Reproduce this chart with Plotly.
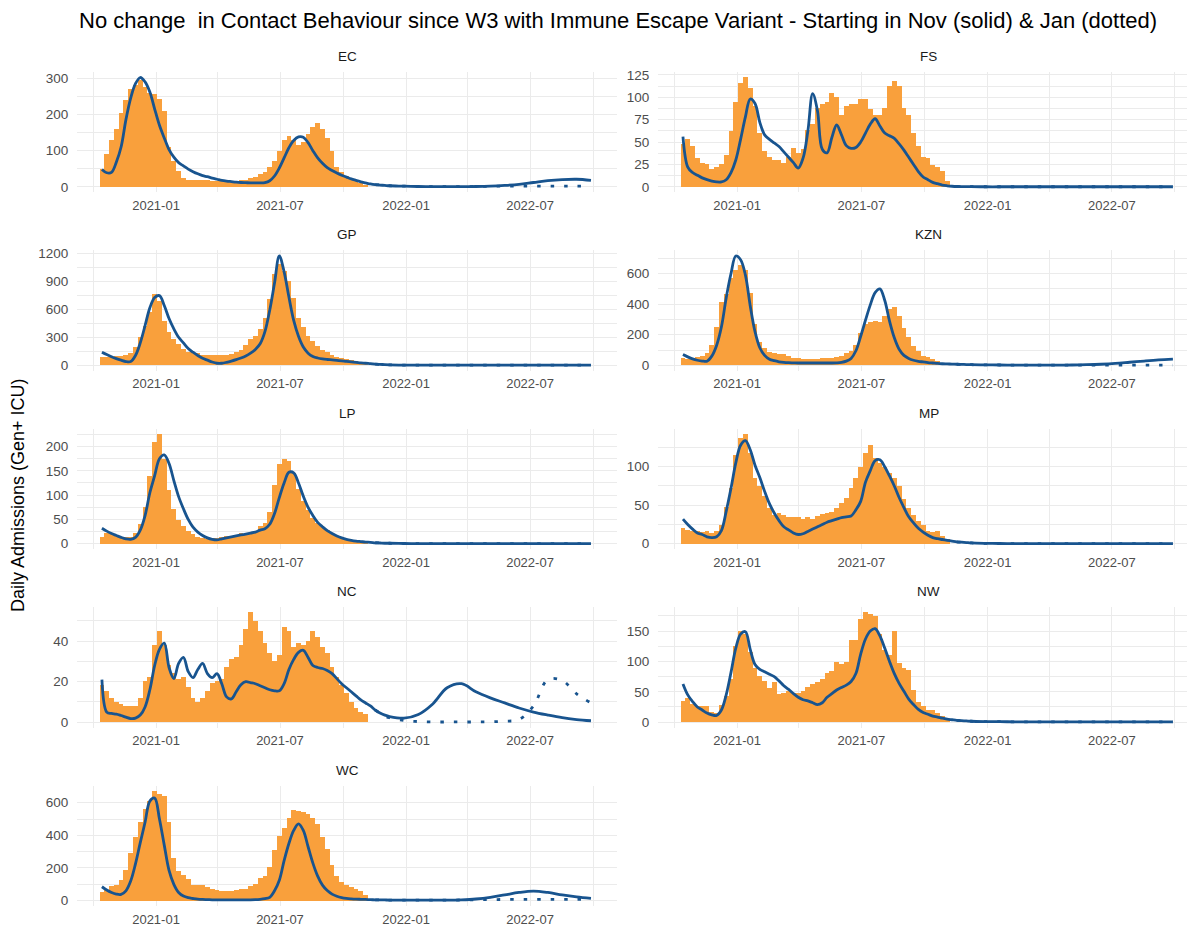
import plotly.graph_objects as go
import pandas as pd

# ---------------- data ----------------
regions = ["EC", "FS", "GP", "KZN", "LP", "MP", "NC", "NW", "WC"]

# weekly admissions bars (centre dates)
bar_dates = pd.date_range("2020-10-14", periods=56, freq="7D")
# model curve sample dates: weekly, then every three weeks
line_weeks = list(range(61)) + list(range(63, 103, 3))
line_dates = [pd.Timestamp("2020-10-14") + pd.Timedelta(weeks=w) for w in line_weeks]
jan_from = 57  # index in line_dates where the Jan (dotted) scenario is shown from

ec_bars = [50, 90, 130, 160, 205, 240, 270, 280, 295, 275,
           260, 255, 242, 210, 110, 70, 45, 25, 20, 20,
           20, 19, 18, 16, 15, 15, 14, 15, 17, 20,
           20, 24, 28, 35, 42, 55, 72, 100, 130, 140,
           130, 115, 125, 145, 165, 175, 160, 135, 100, 55,
           40, 30, 22, 15, 10, 6]
ec_nov = [48, 39, 40, 68, 110, 185, 245, 285, 302, 290,
          262, 215, 170, 135, 103, 82, 67, 58, 49, 42,
          36, 31, 28, 24, 21, 18, 16, 14.5, 13, 12,
          11.5, 11, 11, 11, 12, 17, 30, 52, 80, 108,
          128, 138, 137, 122, 100, 80, 65, 53, 45, 38,
          32, 27, 22, 18, 14, 11, 8, 6, 5, 4,
          3,
          2, 1, 0.5, 0.5, 0.5, 1, 2, 4, 7, 12, 17, 20, 21, 18]
ec_jan = [6, 5, 4, 3, 2, 1, 0.5, 0.5, 0.5, 1, 1.5, 2, 2, 2, 2, 2, 2, 2]

fs_bars = [48, 53, 45, 32, 27, 25, 20, 22, 25, 35,
           62, 95, 116, 122, 110, 90, 60, 40, 33, 30,
           30, 27, 33, 43, 38, 42, 63, 70, 88, 92,
           95, 105, 100, 80, 90, 92, 92, 98, 98, 87,
           80, 80, 88, 112, 118, 112, 88, 80, 60, 45,
           33, 32, 24, 22, 18, 7]
fs_nov = [56, 22, 16, 13, 10, 8, 6.5, 5.5, 5.5, 8,
          16, 30, 53, 78, 98, 93, 72, 58, 53, 49,
          45, 39, 33, 27, 21, 32, 62, 104, 85, 42,
          38, 55, 69, 58, 46, 43, 44, 50, 60, 70,
          76, 68, 60, 57, 54, 48, 41, 33, 25, 17,
          11, 8, 5, 3.5, 2, 1.2, 0.7, 0.4, 0.3, 0.2,
          0.2,
          0.1, 0.1, 0.1, 0.1, 0.1, 0.1, 0.1, 0.1, 0.1, 0.1, 0.1, 0.1, 0.1, 0.1]
fs_jan = fs_nov[jan_from:]

gp_bars = [80, 82, 88, 90, 92, 100, 130, 190, 300, 420,
           560, 760, 680, 470, 350, 280, 220, 165, 140, 135,
           125, 110, 105, 105, 110, 105, 110, 120, 135, 160,
           210, 275, 310, 380, 500, 700, 970, 1080, 1000, 900,
           720, 500, 400, 310, 255, 200, 160, 140, 100, 80,
           72, 65, 52, 40, 28, 18]
gp_nov = [140, 115, 92, 72, 55, 40, 40, 105, 240, 425,
          615, 725, 745, 640, 500, 390, 300, 240, 180, 140,
          105, 75, 55, 35, 22, 22, 32, 45, 60, 78,
          100, 130, 170, 230, 360, 590, 880, 1170, 1000, 730,
          480, 310, 195, 130, 95, 78, 68, 62, 58, 53,
          48, 42, 37, 32, 26, 22, 17, 13, 10, 7,
          5,
          2, 1, 1, 1, 1, 1, 1, 1, 1, 1, 1, 1, 1, 1]
gp_jan = gp_nov[jan_from:]

kzn_bars = [45, 40, 42, 50, 60, 75, 130, 250, 410, 460,
            570, 620, 650, 620, 470, 270, 150, 110, 85, 75,
            72, 72, 55, 45, 42, 40, 40, 40, 40, 42,
            45, 47, 50, 55, 80, 90, 130, 210, 270, 280,
            285, 280, 320, 365, 380, 320, 240, 180, 125, 90,
            60, 50, 35, 22, 12, 5]
kzn_nov = [70, 55, 42, 33, 28, 27, 60, 130, 250, 440,
           600, 715, 690, 590, 390, 220, 115, 65, 40, 30,
           23, 19, 17, 16, 15, 15, 15, 15, 15, 15,
           15, 15, 16, 19, 27, 45, 95, 190, 295, 395,
           475, 500, 425, 290, 180, 105, 65, 45, 33, 26,
           22, 18, 15, 12, 10, 9, 8, 7, 6, 5,
           4,
           3, 2, 1.5, 1, 1, 1, 2, 4, 7, 12, 20, 28, 35, 40]
kzn_jan = [7, 6, 5, 4, 3, 2, 1.5, 1, 1, 1, 1, 1, 1, 1, 1, 1, 1, 1]

lp_bars = [15, 22, 20, 17, 15, 14, 15, 22, 40, 75,
           140, 210, 225, 175, 110, 72, 48, 36, 27, 20,
           15, 12, 10, 11, 12, 15, 16, 17, 19, 22,
           20, 23, 27, 36, 42, 65, 120, 165, 175, 170,
           145, 112, 88, 70, 53, 42, 34, 28, 21, 16,
           12, 10, 8, 6, 5, 3]
lp_nov = [32, 26, 21, 17, 13, 10, 9, 13, 28, 58,
          105, 140, 175, 183, 165, 130, 97, 72, 50, 34,
          24, 17, 12, 9, 8, 10, 12, 14, 16, 18,
          20, 22, 24, 28, 31, 40, 62, 95, 125, 147,
          146, 125, 98, 75, 58, 44, 35, 27, 21, 16,
          12, 9, 7, 5.5, 4.5, 3.5, 3, 2, 1.5, 1,
          1,
          0.5, 0.3, 0.2, 0.2, 0.2, 0.2, 0.2, 0.2, 0.2, 0.2, 0.2, 0.2, 0.2, 0.2]
lp_jan = lp_nov[jan_from:]

mp_bars = [20, 18, 16, 16, 15, 16, 14, 17, 25, 48,
           72, 115, 138, 142, 118, 85, 75, 62, 47, 38,
           40, 38, 35, 35, 35, 32, 35, 32, 36, 39,
           40, 41, 47, 53, 60, 72, 85, 100, 118, 128,
           112, 105, 100, 92, 86, 75, 58, 47, 37, 30,
           25, 17, 15, 16, 10, 6]
mp_nov = [32, 25, 19, 14, 12, 9, 8, 9, 17, 42,
          72, 105, 128, 134, 122, 102, 86, 68, 52, 40,
          30, 22, 18, 14, 12, 13, 16, 19, 22, 25,
          28, 30, 32, 34, 35, 36, 44, 55, 80, 95,
          108, 109, 100, 88, 75, 60, 47, 35, 27, 20,
          15, 11, 8, 6.5, 5.5, 4.5, 3.5, 2.5, 2, 1.5,
          1,
          0.5, 0.3, 0.2, 0.2, 0.2, 0.2, 0.2, 0.2, 0.2, 0.2, 0.2, 0.2, 0.2, 0.2]
mp_jan = mp_nov[jan_from:]

nc_bars = [18, 15, 12, 10, 9, 8, 8, 8, 12, 20,
           22, 38, 45, 38, 28, 24, 21, 22, 17, 12,
           10, 12, 15, 19, 20, 21, 27, 31, 32, 38,
           46, 54, 50, 45, 39, 34, 30, 33, 47, 45,
           37, 39, 38, 40, 45, 42, 37, 34, 27, 22,
           18, 14, 10, 7, 5, 4]
nc_nov = [21, 5, 4.3, 4, 3.3, 2.5, 1.8, 2, 3.5, 7.5,
          16, 28, 36, 39, 27, 21.5, 29, 32, 25, 22,
          26, 29, 24, 22, 24, 19, 12.5, 11.5, 15, 18.5,
          20, 19.5, 19, 18, 17, 16, 15.5, 15.5, 19, 26,
          31, 34.5, 35.5, 32, 28, 27, 26.5, 25.5, 24, 21.5,
          19, 17, 15, 13, 11, 9.5, 8, 6, 4.5, 3.5,
          2.8,
          2, 3.8, 9, 17, 19, 15, 12, 9.5, 7, 5, 3.5, 2.2, 1.3, 0.7]
nc_jan = [6, 4.5, 3, 2.2, 0.8, 0.3, 0.1, 0.1, 0.1, 0.1, 0.2, 0.5, 1.3, 8, 21, 20.6, 14, 9.5]

nw_bars = [35, 40, 30, 26, 26, 26, 16, 14, 28, 43,
           70, 125, 150, 145, 115, 88, 75, 68, 55, 65,
           45, 48, 51, 48, 48, 50, 57, 62, 65, 70,
           80, 84, 98, 95, 98, 135, 135, 170, 180, 178,
           175, 145, 118, 110, 150, 97, 88, 85, 52, 32,
           26, 20, 19, 14, 10, 5]
nw_nov = [63, 45, 34, 25, 20, 15, 12, 11, 20, 45,
          82, 122, 145, 149, 120, 95, 87, 83, 79, 75,
          68, 60, 54, 47, 41, 37, 35, 32, 29, 32,
          41, 47, 53, 57, 61, 67, 80, 112, 137, 150,
          154, 142, 122, 100, 80, 64, 51, 38, 29, 21,
          16, 13, 10, 8.5, 6.5, 5, 4, 3, 2.5, 2,
          1.5,
          1, 0.8, 0.6, 0.5, 0.5, 0.5, 0.5, 0.5, 0.5, 0.5, 0.5, 0.5, 0.5, 0.5]
nw_jan = nw_nov[jan_from:]

wc_bars = [55, 68, 88, 97, 125, 190, 290, 390, 480, 565,
           610, 670, 655, 640, 480, 260, 185, 160, 135, 95,
           95, 95, 85, 70, 68, 62, 60, 58, 68, 72,
           75, 88, 105, 138, 155, 210, 310, 400, 445, 510,
           555, 550, 545, 535, 505, 470, 390, 320, 220, 155,
           118, 98, 85, 72, 58, 38]
wc_nov = [85, 65, 50, 40, 38, 60, 120, 225, 355, 480,
          610, 628, 500, 340, 185, 100, 50, 28, 18, 13,
          9, 7, 6, 5, 5, 4, 4, 4, 4, 4,
          5, 5, 6, 8, 12, 20, 60, 125, 245, 350,
          430, 470, 430, 330, 230, 150, 95, 62, 40, 27,
          19, 14, 11, 9, 8, 7, 6, 5, 4.5, 4,
          3.5,
          3, 3, 3, 3, 5, 10, 20, 35, 50, 58, 50, 35, 23, 14]
wc_jan = [5, 4.5, 4, 3.5, 3, 3, 3, 3, 4, 5, 6, 7, 7, 7, 7, 7, 7, 7]

panel_data = {
    "EC": (ec_bars, ec_nov, ec_jan), "FS": (fs_bars, fs_nov, fs_jan),
    "GP": (gp_bars, gp_nov, gp_jan), "KZN": (kzn_bars, kzn_nov, kzn_jan),
    "LP": (lp_bars, lp_nov, lp_jan), "MP": (mp_bars, mp_nov, mp_jan),
    "NC": (nc_bars, nc_nov, nc_jan), "NW": (nw_bars, nw_nov, nw_jan),
    "WC": (wc_bars, wc_nov, wc_jan),
}
y_steps = {"EC": 100, "FS": 25, "GP": 300, "KZN": 200, "LP": 50,
           "MP": 50, "NC": 20, "NW": 50, "WC": 200}

x_tick_vals = ["2021-01-01", "2021-07-01", "2022-01-01", "2022-07-01"]
x_tick_text = ["2021-01", "2021-07", "2022-01", "2022-07"]
x_minor_vals = ["2020-10-01", "2021-04-01", "2021-10-01", "2022-04-01", "2022-10-01"]

title_text = ("No change  in Contact Behaviour since W3 with Immune Escape Variant"
              " - Starting in Nov (solid) & Jan (dotted)")
y_title = "Daily Admissions (Gen+ ICU)"

# ---------------- styling / geometry ----------------
PAGE_W, PAGE_H = 1195, 935
OFF = 8                      # default page body margin around the figure
W, H = PAGE_W - 2 * OFF, PAGE_H - 2 * OFF
BAR = "#F9A03C"
LINE = "#18548F"
GRID = "#EBEBEB"
FONT = "Liberation Sans, Arial, sans-serif"
# panel extents in target page pixels
col_px = [(77, 617), (658, 1199)]
x_full_range = ["2020-09-07 15:00", "2022-11-05"]
row_top0, row_step, panel_h = 67.9, 181.0, 122.0


def fx(px):
    return (px - OFF) / W


def fy(py):
    return 1 - (py - OFF) / H


fig = go.Figure()
layout = {}
annotations = []
t0, t1 = pd.Timestamp(x_full_range[0]), pd.Timestamp(x_full_range[1])

for idx, reg in enumerate(regions):
    r, c = divmod(idx, 2)
    n = idx + 1
    xa = "x" if n == 1 else f"x{n}"
    ya = "y" if n == 1 else f"y{n}"
    bars, nov, jan = panel_data[reg]

    fig.add_trace(go.Bar(x=bar_dates, y=bars, width=7 * 86400000,
                         marker=dict(color=BAR, line=dict(width=0)),
                         xaxis=xa, yaxis=ya, showlegend=False, hoverinfo="skip"))
    fig.add_trace(go.Scatter(x=line_dates[jan_from:], y=jan, mode="lines",
                             line=dict(color=LINE, width=2.8, dash="3.5px,10px", shape="spline"),
                             xaxis=xa, yaxis=ya, showlegend=False, hoverinfo="skip"))
    fig.add_trace(go.Scatter(x=line_dates, y=nov, mode="lines",
                             line=dict(color=LINE, width=2.8, shape="spline"),
                             xaxis=xa, yaxis=ya, showlegend=False, hoverinfo="skip"))

    x0, x1 = col_px[c]
    x1_vis = min(x1, OFF + W)
    top = row_top0 + row_step * r
    bot = top + panel_h
    M = max(max(bars), max(nov), max(jan))
    step = y_steps[reg]

    layout["xaxis" if n == 1 else f"xaxis{n}"] = dict(
        domain=[fx(x0), fx(x1_vis)], anchor=ya, type="date",
        range=[t0, t0 + (t1 - t0) * ((x1_vis - x0) / (x1 - x0))],
        tickmode="array", tickvals=x_tick_vals, ticktext=x_tick_text,
        showgrid=True, gridcolor=GRID, gridwidth=1.1,
        minor=dict(tickmode="array", tickvals=x_minor_vals, showgrid=True,
                   gridcolor=GRID, gridwidth=0.6),
        ticks="outside", ticklen=1, tickcolor="rgba(0,0,0,0)",
        showline=False, zeroline=False,
        tickfont=dict(family=FONT, size=13, color="#4D4D4D"),
    )
    layout["yaxis" if n == 1 else f"yaxis{n}"] = dict(
        domain=[fy(bot), fy(top)], anchor=xa,
        range=[-0.05 * M, 1.05 * M],
        tickmode="linear", tick0=0, dtick=step,
        showgrid=True, gridcolor=GRID, gridwidth=1.1,
        minor=dict(tick0=0, dtick=step / 2, showgrid=True, gridcolor=GRID, gridwidth=0.6),
        ticks="outside", ticklen=5, tickcolor="rgba(0,0,0,0)",
        showline=False, zeroline=False,
        tickfont=dict(family=FONT, size=13.5, color="#4D4D4D"),
    )
    annotations.append(dict(text=reg, x=fx((x0 + x1) / 2), y=fy(top - 16),
                            xref="paper", yref="paper", xanchor="center", yanchor="middle",
                            showarrow=False, font=dict(family=FONT, size=13.5, color="#1A1A1A")))

annotations.append(dict(text=title_text, x=fx(618), y=fy(16), xref="paper", yref="paper",
                        xanchor="center", yanchor="middle", showarrow=False,
                        font=dict(family=FONT, size=22, color="#000000")))
annotations.append(dict(text=y_title, x=fx(18), y=fy(497), xref="paper", yref="paper",
                        xanchor="center", yanchor="middle", textangle=-90, showarrow=False,
                        font=dict(family=FONT, size=18, color="#000000")))

fig.update_layout(**layout)
fig.update_layout(width=W, height=H, margin=dict(l=0, r=0, t=0, b=0, pad=0),
                  paper_bgcolor="white", plot_bgcolor="white",
                  barmode="overlay", bargap=0, annotations=annotations,
                  font=dict(family=FONT))

fig.write_html("out.html")
